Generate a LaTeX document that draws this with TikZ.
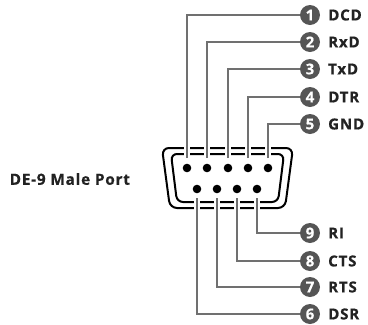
\documentclass[tikz,border=0pt]{standalone}
\usepackage{fontspec}
\setmainfont{Open Sans}[BoldFeatures={FakeBold=0.6}]
\newfontfamily\lblfont{Open Sans}[LetterSpace=5,BoldFeatures={FakeBold=0.6}]
\begin{document}
\begin{tikzpicture}[x=1bp,y=-1bp,
  pinwire/.style={draw=wiregray,line width=2.3bp,preaction={draw=white,line width=6.5bp}},
  badge/.style={circle,fill=badgegray,inner sep=0pt,minimum size=20bp,text=white,font=\bfseries\fontsize{15}{15}\selectfont},
  lbl/.style={anchor=west,inner sep=0pt,text=txtblack,font=\lblfont\bfseries\fontsize{15.2}{15.2}\selectfont},
  dot/.style={circle,fill=black,inner sep=0pt,minimum size=8.6bp},
  shell/.style={draw=black,line width=2bp,rounded corners=7bp}]
\definecolor{wiregray}{HTML}{707070}
\definecolor{badgegray}{HTML}{555555}
\definecolor{txtblack}{HTML}{222222}
\useasboundingbox (0,0) rectangle (368,325);
% shells
\draw[shell] (162,148) -- (293,148) -- (285,208) -- (170,208) -- cycle;
\draw[shell,rounded corners=6bp] (171,154) -- (284,154) -- (278,202) -- (177,202) -- cycle;
% pins
\foreach \i/\x in {1/187,2/207,3/228,4/248,5/268}{
  \node[dot] (p\i) at (\x,168) {};
  \coordinate (e\i) at (\x,158);
}
\foreach \i/\x in {6/197,7/217,8/237,9/257}{
  \node[dot] (p\i) at (\x,189) {};
  \coordinate (e\i) at (\x,198);
}
% badges and labels
\foreach \i/\y/\t in {1/15/DCD,2/42/RxD,3/69/TxD,4/97/DTR,5/124/GND,9/233/RI,8/261/CTS,7/287/RTS,6/314/DSR}{
  \node[badge] (c\i) at (310,\y) {\i};
  \node[lbl] (l\i) at (328,\y) {\t};
}
% wires
\foreach \i in {1,...,9}{
  \draw[pinwire] (e\i) |- (c\i.west);
}
\node[lbl,font=\lblfont\bfseries\fontsize{15.4}{15.4}\selectfont] (title) at (9.5,179) {DE-9 Male Port};
\end{tikzpicture}
\end{document}
